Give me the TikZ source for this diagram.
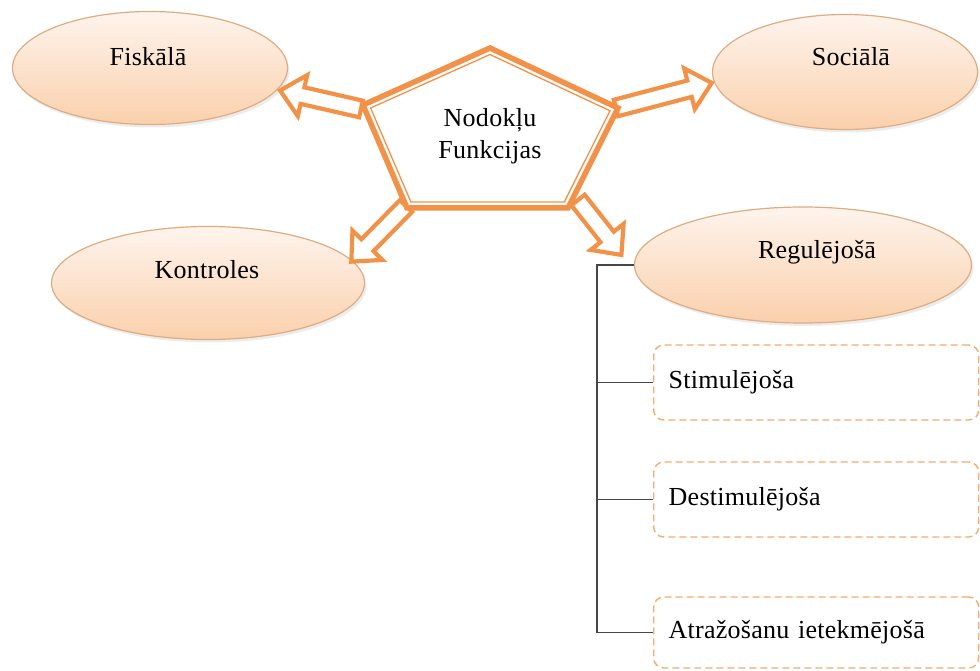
\documentclass[tikz,border=0pt]{standalone}
\usepackage{fontspec}
\setmainfont[LetterSpace=1]{Liberation Serif}
\usetikzlibrary{shapes.geometric,shadows,calc}
\definecolor{arrOrange}{RGB}{242,146,72}
\definecolor{boxOrange}{RGB}{245,172,112}
\definecolor{ellTop}{RGB}{254,244,237}
\definecolor{ellBot}{RGB}{250,208,172}
\definecolor{ellEdge}{RGB}{222,172,130}
\definecolor{treeGray}{RGB}{70,70,70}
\newcommand\blockarr[3]{%
  \draw[blockarrow, shift={(#1)}, rotate=#2]
    (0,-8.5) -- (#3-23,-8.5) -- (#3-23,-21) -- (#3,0) -- (#3-23,21) -- (#3-23,8.5) -- (0,8.5) -- cycle;}
\begin{document}
\begin{tikzpicture}[x=1pt,y=-1pt,
  bubble/.style={ellipse, draw=ellEdge, line width=1.2pt, top color=ellTop, bottom color=ellBot,
    inner sep=0pt, drop shadow={shadow xshift=2pt,shadow yshift=-3pt,opacity=0.15}},
  lbl/.style={font=\fontsize{26}{30}\selectfont, inner sep=0pt},
  subbox/.style={draw=boxOrange, dash pattern=on 7pt off 4pt, line width=1.4pt, rounded corners=10pt,
    minimum width=325pt, text width=295pt, inner xsep=15pt, align=left, anchor=west,
    font=\fontsize{26}{30}\selectfont},
  blockarrow/.style={draw=arrOrange, fill=white, line width=4.2pt, line join=miter},
  tree/.style={draw=treeGray, line width=1.1pt}
]
\useasboundingbox (0,0) rectangle (980,671);
\fill[white] (0,0) rectangle (980,671);

% ellipses
\node[bubble, minimum width=275pt, minimum height=113pt] (fis) at (150,68) {};
\node[bubble, minimum width=265pt, minimum height=115pt] (soc) at (845,72) {};
\node[bubble, minimum width=313pt, minimum height=113pt] (kon) at (208,283) {};
\node[bubble, minimum width=337pt, minimum height=116pt] (reg) at (803,265) {};
\node[lbl] (fisT) at (148,57) {Fiskālā};
\node[lbl] (socT) at (851,57) {Sociālā};
\node[lbl] (konT) at (207,270) {Kontroles};
\node[lbl] (regT) at (817,252) {Regulējošā};

% arrow tails
\coordinate (tL) at (361,109);
\coordinate (tR) at (616,108);
\coordinate (tBL) at (406,206);
\coordinate (tBR) at (578,200);
\blockarr{tL}{167.1}{83}
\blockarr{tR}{14.7}{99}
\blockarr{tBL}{-134.5}{78}
\blockarr{tBR}{-51.7}{70}

% pentagon
\coordinate (pT) at (490,48);
\coordinate (pR) at (618,108);
\coordinate (pBR) at (568,208);
\coordinate (pBL) at (407,208);
\coordinate (pL) at (363,105);
\draw[arrOrange, line width=5.5pt, fill=white, line join=miter] (pT) -- (pR) -- (pBR) -- (pBL) -- (pL) -- cycle;
\draw[arrOrange, line width=1.3pt, line join=miter] (490,54.5) -- (610,110.8) -- (564.3,202) -- (410.9,202) -- (370.6,108) -- cycle;
\node[lbl, align=center, font=\fontsize{26}{32}\selectfont] (pent) at (490,136) {Nodokļu\\Funkcijas};

% sub boxes
\node[subbox, minimum height=75pt] (b1) at (653,382.5) {Stimulējoša};
\node[subbox, minimum height=75pt] (b2) at (653,499.5) {Destimulējoša};
\node[subbox, minimum height=71pt] (b3) at (653,632.5) {Atražošanu ietekmējošā};

% tree
\coordinate (j0) at (597,265);
\draw[tree] (reg.west) -- (j0) -- (j0 |- b3.west) -- (b3.west);
\draw[tree] (j0 |- b1.west) -- (b1.west);
\draw[tree] (j0 |- b2.west) -- (b2.west);
\end{tikzpicture}
\end{document}
